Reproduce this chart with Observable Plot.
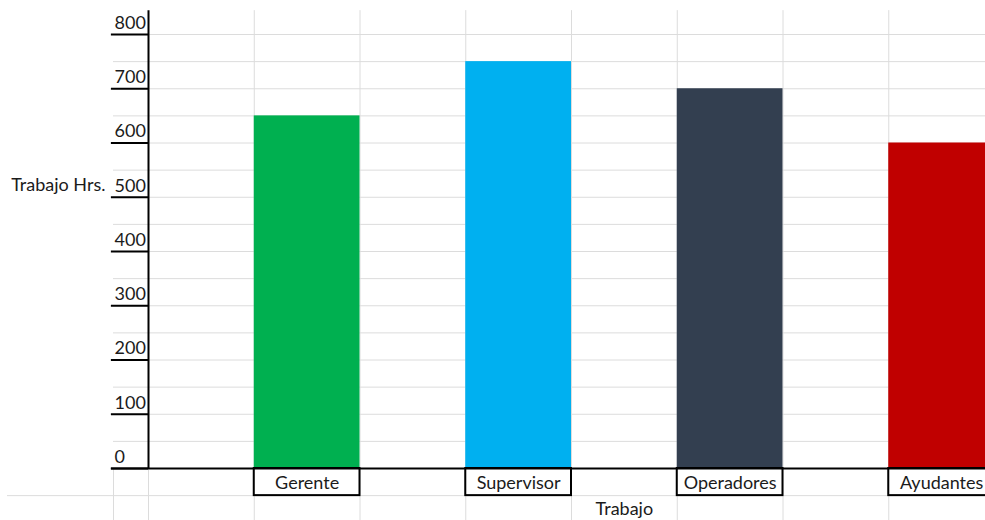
<!DOCTYPE html>
<html>
<head>
<meta charset="utf-8">
<script src="https://cdn.jsdelivr.net/npm/d3@7"></script>
<script src="https://cdn.jsdelivr.net/npm/@observablehq/plot@0.6"></script>
<style>
  html, body { margin: 0; padding: 0; background: #fff; overflow: hidden; }
</style>
</head>
<body>
<div id="chart"></div>
<script>
// Hours of work by role
const categories = ["Gerente", "Supervisor", "Operadores", "Ayudantes"];
const hours = [650, 750, 700, 600];
const barColors = ["#00B050", "#00B0F0", "#333F50", "#C00000"];
const yTicks = [0, 100, 200, 300, 400, 500, 600, 700, 800];
const yTitle = "Trabajo Hrs.";
const xTitle = "Trabajo";

// Sheet layout: every category occupies every second column (1, 3, 5, 7)
const nCols = 8;
const colWidth = 105.75;          // px per sheet column
const axisX = 148;                // px position of the value axis
const rowStep = 50;               // one sheet row = 50 hours
const leftCol = (113 - axisX) / colWidth;   // narrow column left of the axis
const farLeft = (7 - axisX) / colWidth;     // left edge of the lower row line
const gridTop = 844;              // top end of the column lines
const gridBottom = -110;

const rows = categories.map((cat, i) => ({
  cat, hrs: hours[i], col: 2 * i + 1, color: barColors[i]
}));

const hGrid = d3.range(rowStep, 801, rowStep);
const vGrid = d3.range(1, nCols + 1);

const ink = "#1b1b1b";
const gridColor = "#dcdcdc";

const chart = Plot.plot({
  width: 985,
  height: 520,
  margin: 0,
  style: { fontFamily: "Lato, 'Open Sans', sans-serif", fontSize: "18px", color: ink, background: "#fff" },
  x: { type: "linear", domain: [0, nCols], range: [axisX, axisX + nCols * colWidth], axis: null },
  y: { type: "linear", domain: [0, 800], range: [468, 34], axis: null },
  color: { type: "identity" },
  marks: [
    // sheet grid
    Plot.ruleY(hGrid, { x1: leftCol, x2: nCols + 1, stroke: gridColor }),
    Plot.ruleY([-rowStep], { x1: farLeft, x2: nCols + 1, stroke: gridColor }),
    Plot.ruleX(vGrid, { y1: gridBottom, y2: gridTop, stroke: gridColor }),
    Plot.ruleX([0, leftCol], { y1: gridBottom, y2: 0, stroke: gridColor }),

    // bars
    Plot.rectY(rows, { x1: "col", x2: d => d.col + 1, y1: 0, y2: "hrs", fill: "color" }),

    // value axis: line, ticks and labels
    Plot.ruleY(yTicks, { x1: leftCol - 0.02, x2: 0, stroke: "#000", strokeWidth: 2 }),
    Plot.ruleX([0], { y1: 0, y2: gridTop, stroke: "#000", strokeWidth: 2 }),
    Plot.ruleY([0], { x1: leftCol - 0.02, x2: nCols + 1, stroke: "#000", strokeWidth: 2 }),
    Plot.text(yTicks, { x: leftCol, y: d => d, dx: 1, dy: -11.5, text: d => String(d), textAnchor: "start", fill: ink, fontSize: 18 }),
    Plot.text([yTitle], { x: leftCol, y: 500, dx: -8, dy: -12, text: d => d, textAnchor: "end", fill: ink, fontSize: 18 }),

    // category label boxes
    Plot.rect(rows, { x1: "col", x2: d => d.col + 1, y1: 0, y2: -rowStep, fill: "none", stroke: "#000", strokeWidth: 2 }),
    Plot.text(rows, { x: d => d.col + 0.5, y: -rowStep / 2, dy: 1.5, text: "cat", fill: ink, fontSize: 18 }),

    // category axis title
    Plot.text([xTitle], { x: nCols / 2 + 0.5, y: -rowStep * 1.5, dy: 0.5, text: d => d, fill: ink, fontSize: 18 })
  ]
});

document.getElementById("chart").appendChild(chart);
</script>
</body>
</html>
